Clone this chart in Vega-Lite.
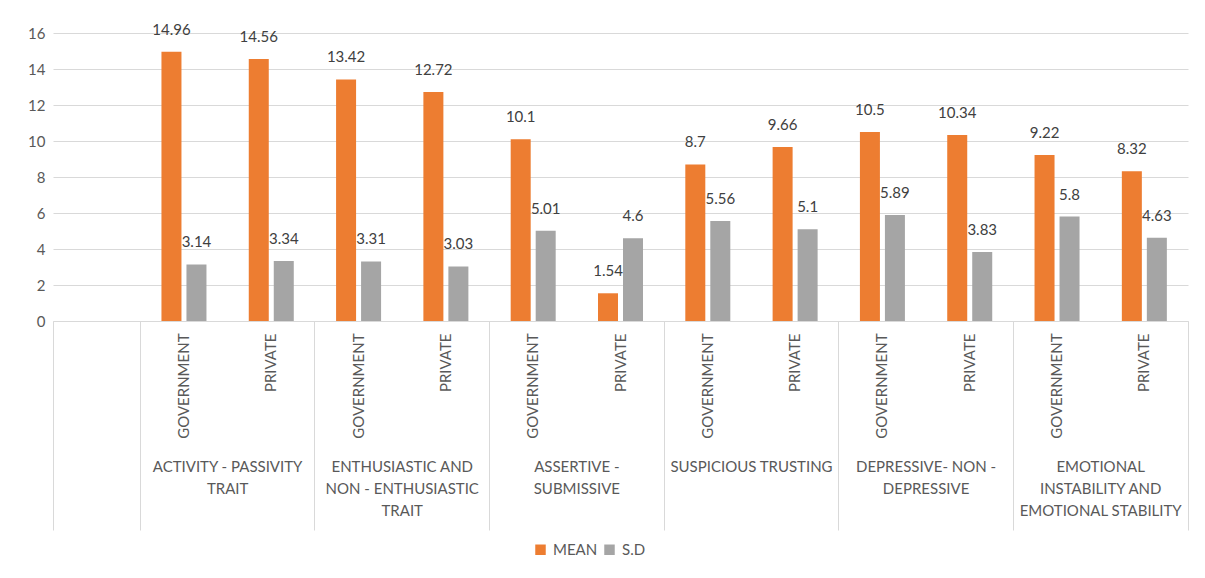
{
  "$schema": "https://vega.github.io/schema/vega-lite/v6.json",
  "autosize": "none",
  "width": 1135,
  "height": 288,
  "padding": {"left": 53, "top": 33, "right": 17, "bottom": 257},
  "background": "white",
  "config": {
    "font": "Lato",
    "view": {"stroke": null},
    "axis": {"labelFont": "Lato", "labelColor": "#595959"}
  },
  "data": {
    "values": [
      {"slot": "ACTIVITY - PASSIVITY\nTRAIT|GOVERNMENT", "series": "MEAN", "value": 14.96},
      {"slot": "ACTIVITY - PASSIVITY\nTRAIT|GOVERNMENT", "series": "S.D", "value": 3.14},
      {"slot": "ACTIVITY - PASSIVITY\nTRAIT|PRIVATE", "series": "MEAN", "value": 14.56},
      {"slot": "ACTIVITY - PASSIVITY\nTRAIT|PRIVATE", "series": "S.D", "value": 3.34},
      {"slot": "ENTHUSIASTIC AND\nNON - ENTHUSIASTIC\nTRAIT|GOVERNMENT", "series": "MEAN", "value": 13.42},
      {"slot": "ENTHUSIASTIC AND\nNON - ENTHUSIASTIC\nTRAIT|GOVERNMENT", "series": "S.D", "value": 3.31},
      {"slot": "ENTHUSIASTIC AND\nNON - ENTHUSIASTIC\nTRAIT|PRIVATE", "series": "MEAN", "value": 12.72},
      {"slot": "ENTHUSIASTIC AND\nNON - ENTHUSIASTIC\nTRAIT|PRIVATE", "series": "S.D", "value": 3.03},
      {"slot": "ASSERTIVE -\nSUBMISSIVE|GOVERNMENT", "series": "MEAN", "value": 10.1},
      {"slot": "ASSERTIVE -\nSUBMISSIVE|GOVERNMENT", "series": "S.D", "value": 5.01},
      {"slot": "ASSERTIVE -\nSUBMISSIVE|PRIVATE", "series": "MEAN", "value": 1.54},
      {"slot": "ASSERTIVE -\nSUBMISSIVE|PRIVATE", "series": "S.D", "value": 4.6},
      {"slot": "SUSPICIOUS TRUSTING|GOVERNMENT", "series": "MEAN", "value": 8.7},
      {"slot": "SUSPICIOUS TRUSTING|GOVERNMENT", "series": "S.D", "value": 5.56},
      {"slot": "SUSPICIOUS TRUSTING|PRIVATE", "series": "MEAN", "value": 9.66},
      {"slot": "SUSPICIOUS TRUSTING|PRIVATE", "series": "S.D", "value": 5.1},
      {"slot": "DEPRESSIVE- NON -\nDEPRESSIVE|GOVERNMENT", "series": "MEAN", "value": 10.5},
      {"slot": "DEPRESSIVE- NON -\nDEPRESSIVE|GOVERNMENT", "series": "S.D", "value": 5.89},
      {"slot": "DEPRESSIVE- NON -\nDEPRESSIVE|PRIVATE", "series": "MEAN", "value": 10.34},
      {"slot": "DEPRESSIVE- NON -\nDEPRESSIVE|PRIVATE", "series": "S.D", "value": 3.83},
      {"slot": "EMOTIONAL\nINSTABILITY AND\nEMOTIONAL STABILITY|GOVERNMENT", "series": "MEAN", "value": 9.22},
      {"slot": "EMOTIONAL\nINSTABILITY AND\nEMOTIONAL STABILITY|GOVERNMENT", "series": "S.D", "value": 5.8},
      {"slot": "EMOTIONAL\nINSTABILITY AND\nEMOTIONAL STABILITY|PRIVATE", "series": "MEAN", "value": 8.32},
      {"slot": "EMOTIONAL\nINSTABILITY AND\nEMOTIONAL STABILITY|PRIVATE", "series": "S.D", "value": 4.63}
    ]
  },
  "encoding": {
    "x": {
      "field": "slot",
      "type": "nominal",
      "sort": null,
      "scale": {
        "domain": [
          "|",
          "ACTIVITY - PASSIVITY\nTRAIT|GOVERNMENT",
          "ACTIVITY - PASSIVITY\nTRAIT|PRIVATE",
          "ENTHUSIASTIC AND\nNON - ENTHUSIASTIC\nTRAIT|GOVERNMENT",
          "ENTHUSIASTIC AND\nNON - ENTHUSIASTIC\nTRAIT|PRIVATE",
          "ASSERTIVE -\nSUBMISSIVE|GOVERNMENT",
          "ASSERTIVE -\nSUBMISSIVE|PRIVATE",
          "SUSPICIOUS TRUSTING|GOVERNMENT",
          "SUSPICIOUS TRUSTING|PRIVATE",
          "DEPRESSIVE- NON -\nDEPRESSIVE|GOVERNMENT",
          "DEPRESSIVE- NON -\nDEPRESSIVE|PRIVATE",
          "EMOTIONAL\nINSTABILITY AND\nEMOTIONAL STABILITY|GOVERNMENT",
          "EMOTIONAL\nINSTABILITY AND\nEMOTIONAL STABILITY|PRIVATE"
        ],
        "paddingInner": 0,
        "paddingOuter": 0
      }
    },
    "xOffset": {
      "field": "series",
      "type": "nominal",
      "sort": ["MEAN", "S.D"],
      "scale": {"paddingInner": 0.2, "paddingOuter": 0.846}
    },
    "y": {
      "field": "value",
      "type": "quantitative",
      "scale": {"domain": [0, 16], "nice": false},
      "axis": {
        "title": null,
        "values": [0, 2, 4, 6, 8, 10, 12, 14, 16],
        "domain": false,
        "ticks": false,
        "grid": true,
        "gridColor": "#d9d9d9",
        "labelPadding": 8,
        "labelFontSize": 15
      }
    }
  },
  "layer": [
    {
      "mark": {"type": "bar"},
      "encoding": {
        "x": {
          "field": "slot",
          "type": "nominal",
          "sort": null,
          "axis": {
            "title": null,
            "orient": "bottom",
            "bandPosition": 1,
            "labelExpr": "split(datum.value, '|')[1]",
            "labelAngle": 270,
            "labelAlign": "right",
            "labelBaseline": "middle",
            "labelFontSize": 15,
            "labelPadding": -197,
            "domain": true,
            "domainColor": "#d9d9d9",
            "ticks": true,
            "tickSize": 209,
            "tickColor": "#d9d9d9",
            "tickOpacity": {"condition": {"test": "datum.index == 1", "value": 1}, "value": 0},
            "grid": false
          }
        },
        "color": {
          "field": "series",
          "type": "nominal",
          "sort": ["MEAN", "S.D"],
          "scale": {"domain": ["MEAN", "S.D"], "range": ["#ED7D31", "#A5A5A5"]},
          "legend": {
            "title": null,
            "orient": "none",
            "legendX": 480,
            "legendY": 509,
            "direction": "horizontal",
            "symbolType": "square",
            "symbolSize": 110,
            "symbolStrokeWidth": 0,
            "labelFontSize": 15,
            "labelColor": "#595959",
            "columnPadding": 4,
            "labelOffset": 5
          }
        }
      }
    },
    {
      "mark": {"type": "text", "dy": -22, "fontSize": 15, "color": "#404040", "baseline": "middle"},
      "encoding": {
        "x": {
          "field": "slot",
          "type": "nominal",
          "sort": null,
          "axis": {
            "title": null,
            "orient": "bottom",
            "bandPosition": 0,
            "labelOffset": -43.65,
            "labelExpr": "indexof(datum.value, '|PRIVATE') >= 0 ? split(split(datum.value, '|')[0], '\\n') : ''",
            "labelAngle": 0,
            "labelAlign": "center",
            "labelBaseline": "top",
            "labelFontSize": 15,
            "labelLineHeight": 22,
            "labelPadding": -71,
            "labelLimit": 300,
            "domain": false,
            "ticks": true,
            "tickSize": 209,
            "tickColor": "#d9d9d9",
            "tickOpacity": {"condition": {"test": "indexof(datum.value, '|PRIVATE') >= 0", "value": 0}, "value": 1},
            "grid": false
          }
        },
        "text": {"field": "value", "type": "quantitative", "format": ".4~g"}
      }
    }
  ],
  "resolve": {"axis": {"x": "independent"}}
}
